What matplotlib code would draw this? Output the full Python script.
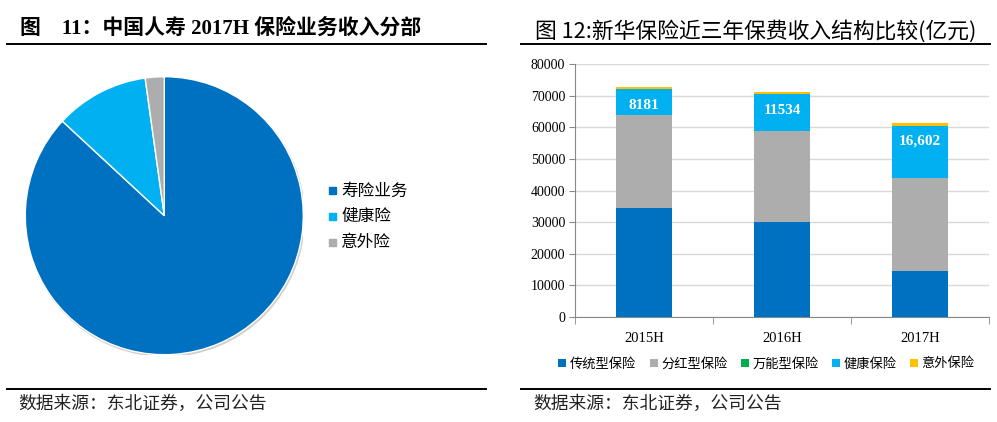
import matplotlib
matplotlib.use("Agg")
import matplotlib.pyplot as plt
import numpy as np
from matplotlib.lines import Line2D

plt.rcParams['font.family'] = ['Liberation Serif', 'Noto Sans CJK SC', 'DejaVu Sans']

# left pie: 中国人寿 2017H 保险业务收入分部 (%)
pie_labels = ['寿险业务', '健康险', '意外险']
pie_shares = [86.9, 10.9, 2.2]
pie_colors = ['#0070C0', '#00B0F0', '#ADADAD']

# right stacked bars: 新华保险保费收入结构
years = ['2015H', '2016H', '2017H']
traditional = [34600, 30000, 14650]
dividend = [29300, 28850, 29300]
universal = [0, 0, 0]
health = [8181, 11534, 16602]
accident = [550, 700, 800]
health_text = ['8181', '11534', '16,602']
series_names = ['传统型保险', '分红型保险', '万能型保险', '健康保险', '意外保险']
series_colors = ['#0070C0', '#ADADAD', '#00B050', '#00B0F0', '#FFC000']

W, H = 997, 422
fig = plt.figure(figsize=(W / 100, H / 100), dpi=100)
cjk = ['Noto Sans CJK SC', 'DejaVu Sans']


def fx(px):
    return px / W


def fy(py):
    return 1 - py / H


# titles, rules and sources
fig.text(fx(20), fy(29), '图    11：中国人寿 2017H 保险业务收入分部',
         fontsize=15, fontweight='bold', va='center')
fig.text(fx(535), fy(31), '图 12:新华保险近三年保费收入结构比较(亿元)', fontsize=15.7,
         family=cjk, va='center')
for x0, x1 in [(7, 486), (521, 990)]:
    fig.add_artist(Line2D([fx(x0), fx(x1)], [fy(44), fy(44)], color='black', lw=1.4))
    fig.add_artist(Line2D([fx(x0), fx(x1)], [fy(389), fy(389)], color='black', lw=1.4))
fig.text(fx(18), fy(404), '数据来源：东北证券，公司公告', fontsize=12.8, family=cjk,
         va='center', color='#222222')
fig.text(fx(533), fy(404), '数据来源：东北证券，公司公告', fontsize=12.8, family=cjk,
         va='center', color='#222222')

# pie
r = 139
axp = fig.add_axes([fx(164.3 - r), fy(215.7 + r), 2 * r / W, 2 * r / H])
axp.add_patch(plt.Circle((0.008, -0.012), 1.0, color='#D0D0D0', zorder=0))
axp.pie(pie_shares, colors=pie_colors, startangle=90, counterclock=False,
        wedgeprops=dict(edgecolor='white', linewidth=1))
axp.set_xlim(-1, 1)
axp.set_ylim(-1, 1)
axp.set_aspect('auto')
for i, (lab, c) in enumerate(zip(pie_labels, pie_colors)):
    y = fy(191 + 25.5 * i)
    fig.patches.append(plt.Rectangle((fx(328.5), y - 3.5 / H), 7 / W, 7 / H,
                                     transform=fig.transFigure, color=c, figure=fig))
    fig.text(fx(341), y, lab, fontsize=12, family=cjk, va='center')

# stacked bars
ax = fig.add_axes([fx(575), fy(317), fx(989 - 575), (317 - 64) / H])
x = np.arange(len(years))
bottom = np.zeros(len(years))
handles = []
for vals, name, c in zip([traditional, dividend, universal, health, accident],
                         series_names, series_colors):
    b = ax.bar(x, vals, 0.4, bottom=bottom, color=c, label=name, zorder=3)
    handles.append(b)
    bottom = bottom + np.array(vals)
    if name == '健康保险':
        tops = bottom.copy()
for xi, top, txt in zip(x, tops, health_text):
    ax.annotate(txt, (xi, top), xytext=(0, -16), textcoords='offset pixels',
                ha='center', va='center', color='white', fontweight='bold', fontsize=11,
                zorder=5)

ax.set_xlim(-0.5, 2.5)
ax.set_ylim(0, 80000)
ax.set_yticks(np.arange(0, 80001, 10000))
ax.tick_params(axis='y', labelsize=10, length=4, color='#888888', pad=3)
ax.set_xticks(x)
ax.set_xticklabels(years, fontsize=10.5)
ax.set_xticks([-0.5, 0.5, 1.5, 2.5], minor=True)
ax.tick_params(axis='x', which='major', length=0, pad=11)
ax.tick_params(axis='x', which='minor', length=5, color='#888888')
ax.grid(axis='y', color='#D9D9D9', lw=1, zorder=0)
for s in ['top', 'right']:
    ax.spines[s].set_visible(False)
for s in ['left', 'bottom']:
    ax.spines[s].set_color('#888888')

ax.legend(handles=handles, loc='center',
          bbox_to_anchor=((766.5 - 575) / (989 - 575), (317 - 364) / (317 - 64)),
          ncol=5, frameon=False, prop={'family': cjk, 'size': 9.5},
          handlelength=0.6, handleheight=0.6, handletextpad=0.25, columnspacing=1.05,
          borderaxespad=0, borderpad=0)

fig.savefig('out.png', dpi=100)
